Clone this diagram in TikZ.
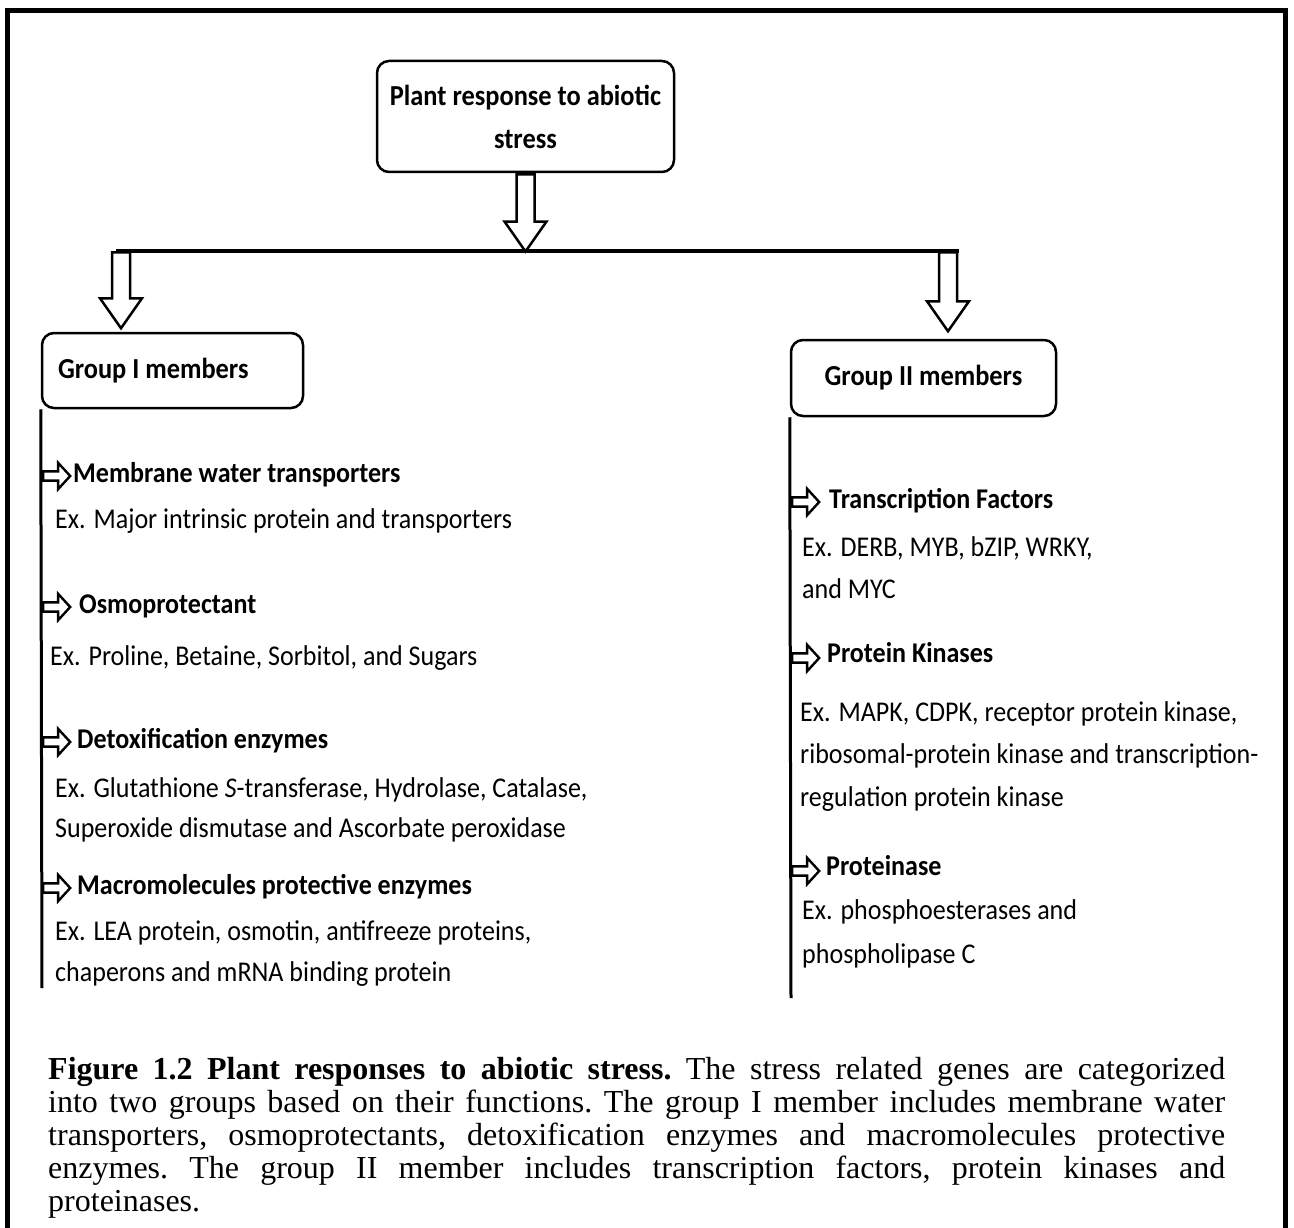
\documentclass[tikz,border=0pt]{standalone}
\usepackage{fontspec}
\setmainfont{Liberation Serif}
\newfontfamily\diagfont[FakeStretch=0.91]{Carlito}
\usetikzlibrary{shapes.arrows,positioning,calc}

\begin{document}
\begin{tikzpicture}[x=1pt,y=-1pt,
  rbox/.style={draw,line width=2.5pt,rounded corners=12pt,inner sep=0pt,
               font=\diagfont\fontsize{29}{43}\selectfont\bfseries,align=center},
  blockarr/.style={draw,fill=white,line width=2.5pt,single arrow,shape border rotate=270,
                   minimum width=40pt,single arrow head extend=12pt,
                   single arrow tip angle=70,inner sep=7.75pt,anchor=tail},
  itemarr/.style={draw,fill=white,line width=2.4pt,single arrow,minimum width=24pt,
                  minimum height=27pt,single arrow head extend=8.6pt,
                  single arrow tip angle=95,inner sep=3.4pt,anchor=tail},
  head/.style={anchor=west,inner sep=0pt,text height=19pt,text depth=7pt,
               font=\diagfont\fontsize{28.6}{32}\selectfont\bfseries},
  txt/.style={anchor=west,inner sep=0pt,text height=19pt,text depth=7pt,
              font=\diagfont\fontsize{28.6}{32}\selectfont},
  stem/.style={line width=3pt},
  bar/.style={line width=4pt}
]
  \useasboundingbox (0,0) rectangle (1294,1228);
  % Frame
  \draw[line width=5pt] (7,1228) -- (7,11) -- (1285,11) -- (1285,1228);

  % Boxes
  \node[rbox,minimum width=297pt,minimum height=111pt] (root) at (525.5,116.5)
       {Plant response to abiotic\\stress};
  \node[rbox,minimum height=75pt,text width=229pt,inner xsep=16pt,align=left] (grpI)
       at (172.5,370.5) {\spaceskip=0pt Group I members};
  \node[rbox,minimum width=265pt,minimum height=76pt] (grpII) at (923.5,378) {Group II members};

  % Bar and block arrows
  \coordinate (barL) at (116,251);
  \coordinate (barR) at (959,251);
  \draw[bar] (barL) -- (barR);
  \node[blockarr,minimum height=77pt] (arrTop) at (root.south) {};
  \node[blockarr,minimum height=76pt] (arrI) at ($(barL)+(5,0)$) {};
  \node[blockarr,minimum height=79pt] (arrII) at ($(barR)+(-11,0)$) {};

  % Stems
  \coordinate (endI) at (42,988);
  \coordinate (endII) at (791,998);
  \draw[stem] (grpI.south west) -- (endI);
  \draw[stem] (grpII.south west) -- (endII);

  % Group I items
  \node[itemarr] at (42,476) {};
  \node[head] (mwt) at (73,476) {Membrane water transporters};
  \node[txt] at (55,522) {Ex. Major intrinsic protein and transporters};
  \node[itemarr] at (42,607) {};
  \node[head] (osm) at (79,607) {Osmoprotectant};
  \node[txt] at (50,659) {Ex. Proline, Betaine, Sorbitol, and Sugars};
  \node[itemarr] at (42,742) {};
  \node[head] (detox) at (77,742) {Detoxification enzymes};
  \node[txt] at (55,791) {Ex. Glutathione \textit{S}-transferase, Hydrolase, Catalase,};
  \node[txt] at (55,831) {Superoxide dismutase and Ascorbate peroxidase};
  \node[itemarr] at (42,888) {};
  \node[head] (macro) at (77,888) {Macromolecules protective enzymes};
  \node[txt] at (55,934) {Ex. LEA protein, osmotin, antifreeze proteins,};
  \node[txt] at (55,975) {chaperons and mRNA binding protein};

  % Group II items
  \node[itemarr] at (791,502) {};
  \node[head] (tf) at (829,502) {Transcription Factors};
  \node[txt] at (802,550) {Ex. DERB, MYB, bZIP, WRKY,};
  \node[txt] at (802,592) {and MYC};
  \node[itemarr] at (791,658) {};
  \node[head] (pk) at (827,656) {Protein Kinases};
  \node[txt] at (800,715) {Ex. MAPK, CDPK, receptor protein kinase,};
  \node[txt] at (800,757) {ribosomal-protein kinase and transcription-};
  \node[txt] at (800,800) {regulation protein kinase};
  \node[itemarr] at (791,871) {};
  \node[head] (prot) at (826,869) {Proteinase};
  \node[txt] at (802,913) {Ex. phosphoesterases and};
  \node[txt] at (802,957) {phospholipase C};

  % Caption
  \node[anchor=north west,inner sep=0pt,text width=1177pt,align=justify,
        font=\fontsize{32}{33}\selectfont] (cap) at (48,1057)
       {\frenchspacing\hyphenpenalty=10000\textbf{Figure 1.2 Plant responses to abiotic stress.} The stress
        related genes are categorized\linebreak into two groups based on their functions. The
        group I member includes membrane water\linebreak transporters, osmoprotectants,
        detoxification enzymes and macromolecules protective\linebreak enzymes. The group II
        member includes transcription factors, protein kinases and\linebreak proteinases.};
\end{tikzpicture}
\end{document}
